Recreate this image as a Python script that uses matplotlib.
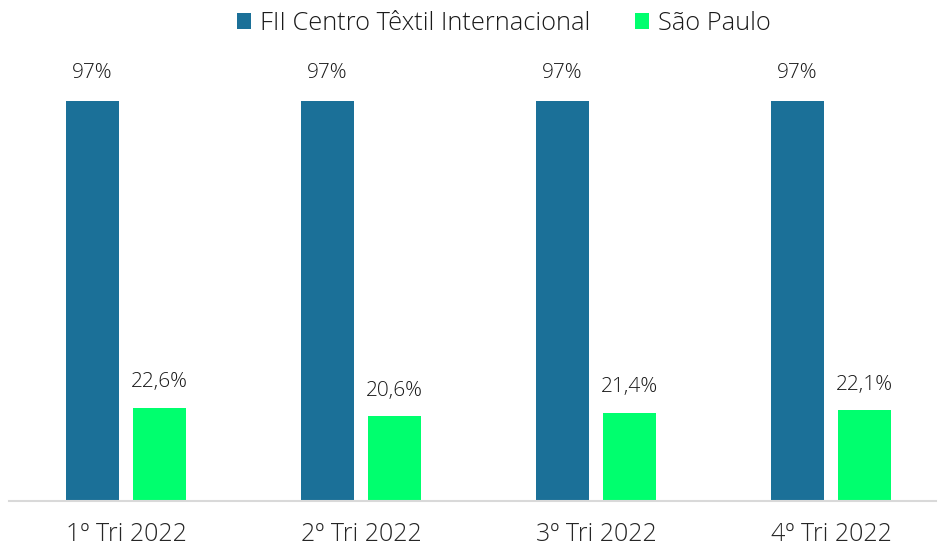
import matplotlib.pyplot as plt
import numpy as np

plt.rcParams['font.family'] = ['Open Sans', 'DejaVu Sans']
plt.rcParams['font.weight'] = 'light'

quarters = ['1º Tri 2022', '2º Tri 2022', '3º Tri 2022', '4º Tri 2022']
fii_values = [97, 97, 97, 97]
sp_values = [22.6, 20.6, 21.4, 22.1]
fii_labels = ['97%', '97%', '97%', '97%']
sp_labels = ['22,6%', '20,6%', '21,4%', '22,1%']

blue = '#1b7098'
green = '#00ff6e'

W, H = 938, 545
fig = plt.figure(figsize=(W / 100, H / 100), dpi=100)
ax = fig.add_axes([8.5 / W, 44 / H, (936 - 8.5) / W, 441 / H])

x = np.arange(len(quarters))
w = 0.2255
off = 0.1426
b1 = ax.bar(x - off, fii_values, width=w, color=blue, label='FII Centro Têxtil Internacional')
b2 = ax.bar(x + off, sp_values, width=w, color=green, label='São Paulo')

for i in range(len(x)):
    ax.annotate(fii_labels[i], (x[i] - off, fii_values[i]), xytext=(0, 12.5), textcoords='offset points',
                ha='center', va='bottom', fontsize=15, color='#1a1a1a')
    ax.annotate(sp_labels[i], (x[i] + off, sp_values[i]), xytext=(0, 11), textcoords='offset points',
                ha='center', va='bottom', fontsize=15, color='#1a1a1a')

ax.set_xlim(-0.5, 3.447)
ax.set_ylim(0, 106.9)
ax.set_xticks(x)
ax.set_xticklabels(quarters, fontsize=18, color='#262626')
ax.tick_params(axis='x', length=0, pad=15)
ax.set_yticks([])
for s in ['top', 'right', 'left']:
    ax.spines[s].set_visible(False)
ax.spines['bottom'].set_color('#d9d9d9')
ax.spines['bottom'].set_linewidth(1.5)

fig.legend(handles=[b1, b2], loc='upper center', bbox_to_anchor=(0.537, 1.022), ncol=2, frameon=False,
           handlelength=0.55, handleheight=0.55, handletextpad=0.35, columnspacing=1.77,
           prop={'size': 18.3, 'weight': 'light'}, labelcolor='#1a1a1a')

fig.savefig('out.png', dpi=100)
